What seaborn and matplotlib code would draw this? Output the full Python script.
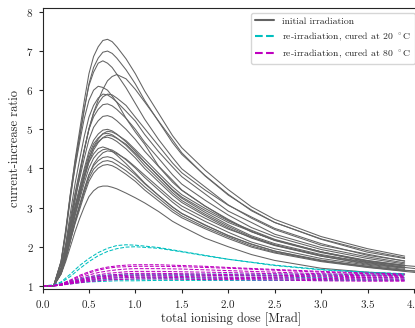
#!/usr/bin/env python3
"""Current-increase ratio vs total ionising dose (initial irradiation and re-irradiation)."""

import numpy as np
import pandas as pd
import matplotlib
matplotlib.use("Agg")
import matplotlib.pyplot as plt
from matplotlib.lines import Line2D
import seaborn as sns

# dose sampling points [Mrad] for the initial irradiation
DOSE_INIT = [0.0, 0.12, 0.2, 0.25, 0.3, 0.35, 0.4, 0.45, 0.5, 0.55, 0.6, 0.65, 0.7, 0.75,
             0.8, 0.9, 1.0, 1.1, 1.25, 1.4, 1.5, 1.75, 2.0, 2.25, 2.5, 3.0, 3.5, 3.9]

# initial irradiation, one row per module
INITIAL = [
    [1.0, 1.0, 1.63, 2.39, 3.33, 4.21, 4.97, 5.73, 6.42, 6.86, 7.11, 7.27, 7.30, 7.24, 7.11, 6.80, 6.42, 5.98, 5.41, 4.84, 4.53, 3.96, 3.46, 3.02, 2.70, 2.26, 1.95, 1.76],
    [1.0, 1.0, 1.60, 2.32, 3.22, 4.06, 4.78, 5.50, 6.16, 6.58, 6.82, 6.97, 7.00, 6.94, 6.82, 6.52, 6.16, 5.74, 5.20, 4.66, 4.36, 3.82, 3.34, 2.92, 2.62, 2.20, 1.90, 1.72],
    [1.0, 1.0, 1.63, 2.44, 3.36, 4.16, 4.85, 5.54, 6.12, 6.46, 6.69, 6.75, 6.69, 6.58, 6.41, 6.06, 5.66, 5.26, 4.74, 4.28, 3.99, 3.53, 3.07, 2.73, 2.44, 2.04, 1.81, 1.63],
    [1.0, 1.0, 1.32, 1.86, 2.51, 3.16, 3.81, 4.46, 5.00, 5.43, 5.75, 6.02, 6.24, 6.35, 6.40, 6.29, 6.02, 5.70, 5.21, 4.73, 4.40, 3.81, 3.32, 2.94, 2.62, 2.19, 1.86, 1.70],
    [1.0, 1.0, 1.61, 2.38, 3.30, 4.01, 4.67, 5.28, 5.74, 6.00, 6.10, 6.07, 6.00, 5.85, 5.69, 5.28, 4.93, 4.62, 4.06, 3.70, 3.45, 3.04, 2.68, 2.38, 2.17, 1.87, 1.61, 1.51],
    [1.0, 1.0, 1.54, 2.08, 2.86, 3.60, 4.23, 4.82, 5.31, 5.61, 5.80, 5.90, 5.88, 5.80, 5.70, 5.46, 5.21, 4.87, 4.43, 4.04, 3.79, 3.35, 2.91, 2.62, 2.32, 1.98, 1.74, 1.59],
    [1.0, 1.0, 1.44, 1.98, 2.62, 3.30, 3.89, 4.48, 5.02, 5.41, 5.66, 5.83, 5.90, 5.88, 5.80, 5.61, 5.31, 5.02, 4.58, 4.14, 3.89, 3.45, 3.06, 2.76, 2.47, 2.08, 1.78, 1.64],
    [1.0, 1.0, 1.47, 2.02, 2.72, 3.37, 3.93, 4.49, 5.00, 5.32, 5.51, 5.63, 5.65, 5.60, 5.51, 5.28, 5.00, 4.67, 4.26, 3.84, 3.60, 3.19, 2.81, 2.49, 2.26, 1.93, 1.70, 1.56],
    [1.0, 1.0, 1.44, 1.96, 2.61, 3.22, 3.74, 4.26, 4.74, 5.05, 5.22, 5.33, 5.35, 5.31, 5.22, 5.00, 4.74, 4.44, 4.05, 3.65, 3.44, 3.04, 2.70, 2.39, 2.17, 1.87, 1.65, 1.52],
    [1.0, 1.0, 1.40, 1.88, 2.48, 3.04, 3.52, 4.00, 4.44, 4.72, 4.88, 4.98, 5.00, 4.96, 4.88, 4.68, 4.44, 4.16, 3.80, 3.44, 3.24, 2.88, 2.56, 2.28, 2.08, 1.80, 1.60, 1.48],
    [1.0, 1.0, 1.36, 1.79, 2.30, 2.86, 3.33, 3.80, 4.24, 4.56, 4.75, 4.89, 4.95, 4.93, 4.87, 4.71, 4.48, 4.24, 3.88, 3.53, 3.33, 2.98, 2.66, 2.42, 2.19, 1.87, 1.63, 1.51],
    [1.0, 1.0, 1.39, 1.86, 2.44, 2.99, 3.46, 3.93, 4.35, 4.63, 4.78, 4.88, 4.90, 4.86, 4.78, 4.59, 4.35, 4.08, 3.73, 3.38, 3.18, 2.83, 2.52, 2.25, 2.05, 1.78, 1.59, 1.47],
    [1.0, 1.0, 1.35, 1.77, 2.27, 2.81, 3.27, 3.73, 4.16, 4.47, 4.66, 4.79, 4.85, 4.83, 4.77, 4.62, 4.39, 4.16, 3.81, 3.46, 3.27, 2.93, 2.62, 2.39, 2.16, 1.85, 1.64, 1.53],
    [1.0, 1.0, 1.38, 1.84, 2.41, 2.94, 3.39, 3.85, 4.27, 4.53, 4.69, 4.78, 4.80, 4.76, 4.69, 4.50, 4.27, 4.00, 3.66, 3.32, 3.13, 2.79, 2.48, 2.22, 2.03, 1.76, 1.57, 1.46],
    [1.0, 1.0, 1.39, 1.89, 2.46, 2.95, 3.38, 3.80, 4.16, 4.37, 4.51, 4.55, 4.51, 4.44, 4.34, 4.12, 3.88, 3.63, 3.31, 3.02, 2.85, 2.56, 2.28, 2.07, 1.89, 1.64, 1.50, 1.39],
    [1.0, 1.0, 1.35, 1.77, 2.30, 2.79, 3.21, 3.63, 4.01, 4.26, 4.40, 4.48, 4.50, 4.47, 4.40, 4.22, 4.01, 3.77, 3.45, 3.14, 2.96, 2.65, 2.37, 2.12, 1.95, 1.70, 1.53, 1.42],
    [1.0, 1.0, 1.31, 1.69, 2.14, 2.62, 3.04, 3.45, 3.83, 4.11, 4.28, 4.40, 4.45, 4.43, 4.38, 4.24, 4.04, 3.83, 3.52, 3.21, 3.04, 2.73, 2.45, 2.24, 2.04, 1.76, 1.55, 1.45],
    [1.0, 1.0, 1.33, 1.73, 2.22, 2.68, 3.08, 3.48, 3.84, 4.07, 4.20, 4.28, 4.30, 4.27, 4.20, 4.04, 3.84, 3.61, 3.31, 3.01, 2.85, 2.55, 2.29, 2.06, 1.89, 1.66, 1.50, 1.40],
    [1.0, 1.0, 1.32, 1.70, 2.18, 2.63, 3.02, 3.40, 3.75, 3.98, 4.10, 4.18, 4.20, 4.17, 4.10, 3.94, 3.75, 3.53, 3.24, 2.95, 2.79, 2.50, 2.25, 2.02, 1.86, 1.64, 1.48, 1.38],
    [1.0, 1.0, 1.31, 1.68, 2.15, 2.58, 2.95, 3.33, 3.67, 3.88, 4.01, 4.08, 4.10, 4.07, 4.01, 3.85, 3.67, 3.45, 3.17, 2.89, 2.74, 2.46, 2.21, 1.99, 1.84, 1.62, 1.47, 1.37],
    [1.0, 1.0, 1.30, 1.62, 2.00, 2.38, 2.72, 3.02, 3.28, 3.43, 3.52, 3.55, 3.55, 3.52, 3.48, 3.37, 3.25, 3.12, 2.90, 2.65, 2.52, 2.22, 2.00, 1.80, 1.65, 1.45, 1.35, 1.30],
]
# some modules were measured a bit further (to 4.1 Mrad)
EXT_DOSE = 4.1
EXT_VALUE = {8: 1.48, 11: 1.42, 14: 1.36, 17: 1.37, 19: 1.32}

# dose sampling points [Mrad] for the re-irradiation runs
DOSE_RE = [0.0, 0.12, 0.2, 0.3, 0.4, 0.5, 0.6, 0.7, 0.8, 0.9, 1.0,
           1.25, 1.5, 1.75, 2.0, 2.5, 3.0, 3.5, 3.9]

# re-irradiation after curing at 20 C
CURED_20 = [
    [1.0, 1.02, 1.10, 1.30, 1.52, 1.70, 1.85, 1.96, 2.03, 2.05, 2.04, 1.98, 1.88, 1.78, 1.68, 1.53, 1.42, 1.35, 1.31],
    [1.0, 1.02, 1.08, 1.24, 1.44, 1.62, 1.77, 1.88, 1.95, 1.99, 2.00, 1.96, 1.87, 1.77, 1.68, 1.52, 1.41, 1.34, 1.30],
    [1.0, 1.01, 1.05, 1.12, 1.18, 1.23, 1.26, 1.28, 1.29, 1.30, 1.30, 1.30, 1.30, 1.30, 1.30, 1.30, 1.30, 1.30, 1.30],
    [1.0, 1.01, 1.04, 1.10, 1.16, 1.20, 1.23, 1.25, 1.26, 1.27, 1.27, 1.27, 1.27, 1.27, 1.27, 1.26, 1.26, 1.26, 1.26],
    [1.0, 1.01, 1.03, 1.08, 1.13, 1.16, 1.19, 1.20, 1.21, 1.22, 1.22, 1.22, 1.22, 1.22, 1.22, 1.22, 1.21, 1.21, 1.21],
    [1.0, 1.00, 1.02, 1.06, 1.10, 1.13, 1.15, 1.16, 1.17, 1.17, 1.17, 1.18, 1.18, 1.18, 1.18, 1.18, 1.17, 1.17, 1.17],
    [1.0, 1.00, 1.02, 1.05, 1.08, 1.10, 1.11, 1.12, 1.13, 1.13, 1.13, 1.14, 1.14, 1.14, 1.14, 1.14, 1.14, 1.14, 1.14],
]

# re-irradiation after curing at 80 C
CURED_80 = [
    [1.0, 1.01, 1.05, 1.15, 1.27, 1.36, 1.43, 1.48, 1.51, 1.53, 1.54, 1.54, 1.52, 1.50, 1.47, 1.42, 1.37, 1.33, 1.30],
    [1.0, 1.01, 1.04, 1.13, 1.24, 1.33, 1.40, 1.45, 1.48, 1.49, 1.50, 1.50, 1.49, 1.47, 1.45, 1.40, 1.35, 1.31, 1.28],
    [1.0, 1.01, 1.04, 1.11, 1.20, 1.28, 1.34, 1.38, 1.41, 1.43, 1.44, 1.44, 1.43, 1.41, 1.39, 1.35, 1.31, 1.28, 1.26],
    [1.0, 1.01, 1.03, 1.09, 1.16, 1.23, 1.28, 1.32, 1.34, 1.36, 1.37, 1.37, 1.36, 1.35, 1.34, 1.31, 1.28, 1.26, 1.24],
    [1.0, 1.01, 1.03, 1.08, 1.14, 1.20, 1.24, 1.27, 1.29, 1.31, 1.32, 1.32, 1.31, 1.30, 1.29, 1.27, 1.25, 1.23, 1.22],
    [1.0, 1.00, 1.03, 1.07, 1.13, 1.18, 1.22, 1.24, 1.26, 1.27, 1.28, 1.28, 1.28, 1.27, 1.26, 1.25, 1.23, 1.21, 1.20],
    [1.0, 1.00, 1.02, 1.07, 1.12, 1.16, 1.19, 1.22, 1.23, 1.24, 1.25, 1.25, 1.24, 1.23, 1.22, 1.21, 1.19, 1.18, 1.17],
    [1.0, 1.00, 1.02, 1.06, 1.10, 1.14, 1.17, 1.19, 1.20, 1.21, 1.22, 1.22, 1.21, 1.20, 1.19, 1.18, 1.16, 1.15, 1.14],
    [1.0, 1.00, 1.02, 1.05, 1.08, 1.11, 1.13, 1.15, 1.16, 1.17, 1.18, 1.18, 1.17, 1.16, 1.16, 1.15, 1.13, 1.12, 1.12],
]

LABELS = {
    "initial": "initial irradiation",
    "c20": r"re-irradiation, cured at 20 $^\circ$C",
    "c80": r"re-irradiation, cured at 80 $^\circ$C",
}
COLORS = {"initial": "#636363", "c20": "#00bfbf", "c80": "#bf00bf"}


def build_frame():
    rows = []
    groups = (("initial", DOSE_INIT, INITIAL), ("c20", DOSE_RE, CURED_20), ("c80", DOSE_RE, CURED_80))
    for kind, dose, curves in groups:
        for i, vals in enumerate(curves):
            unit = f"{kind}_{i:02d}"
            for d, v in zip(dose, vals):
                rows.append((kind, unit, d, v))
            if kind == "initial" and i in EXT_VALUE:
                rows.append((kind, unit, EXT_DOSE, EXT_VALUE[i]))
    return pd.DataFrame(rows, columns=["kind", "unit", "dose", "ratio"])


def main():
    sns.set_style("ticks")
    plt.rcParams.update({
        "font.family": ["cmr10", "DejaVu Serif"],
        "mathtext.fontset": "cm",
        "axes.formatter.use_mathtext": True,
        "axes.unicode_minus": False,
    })

    df = build_frame()

    fig = plt.figure(figsize=(4.15, 3.28), dpi=100)
    ax = fig.add_axes([42.5 / 415, 39 / 328, 4.06 * 92.86 / 415, 281 / 328])

    sns.lineplot(
        data=df, x="dose", y="ratio",
        hue="kind", style="kind", units="unit", estimator=None, sort=False,
        palette=COLORS,
        dashes={"initial": "", "c20": (3.7, 1.6), "c80": (3.7, 1.6)},
        hue_order=["initial", "c20", "c80"],
        linewidth=0.75, legend=False, ax=ax,
    )

    ax.set_xlim(0, 4.06)
    ax.set_ylim(0.92, 8.1)
    ax.set_xticks(np.arange(0, 4.01, 0.5))
    ax.set_yticks(range(1, 9))
    ax.tick_params(labelsize=8, length=3, width=0.8, direction="out")
    ax.set_xlabel("total ionising dose [Mrad]", fontsize=9, labelpad=2)
    ax.set_ylabel("current-increase ratio", fontsize=9)
    for s in ax.spines.values():
        s.set_linewidth(0.8)
        s.set_visible(True)

    handles = [
        Line2D([], [], color=COLORS["initial"], lw=1.5),
        Line2D([], [], color=COLORS["c20"], lw=1.5, ls="--"),
        Line2D([], [], color=COLORS["c80"], lw=1.5, ls="--"),
    ]
    ax.legend(handles, [LABELS[k] for k in ("initial", "c20", "c80")],
              loc="upper right", fontsize=7, frameon=True, fancybox=True,
              framealpha=0.8, edgecolor="0.8")

    fig.savefig("out.png", dpi=100)


if __name__ == "__main__":
    main()
